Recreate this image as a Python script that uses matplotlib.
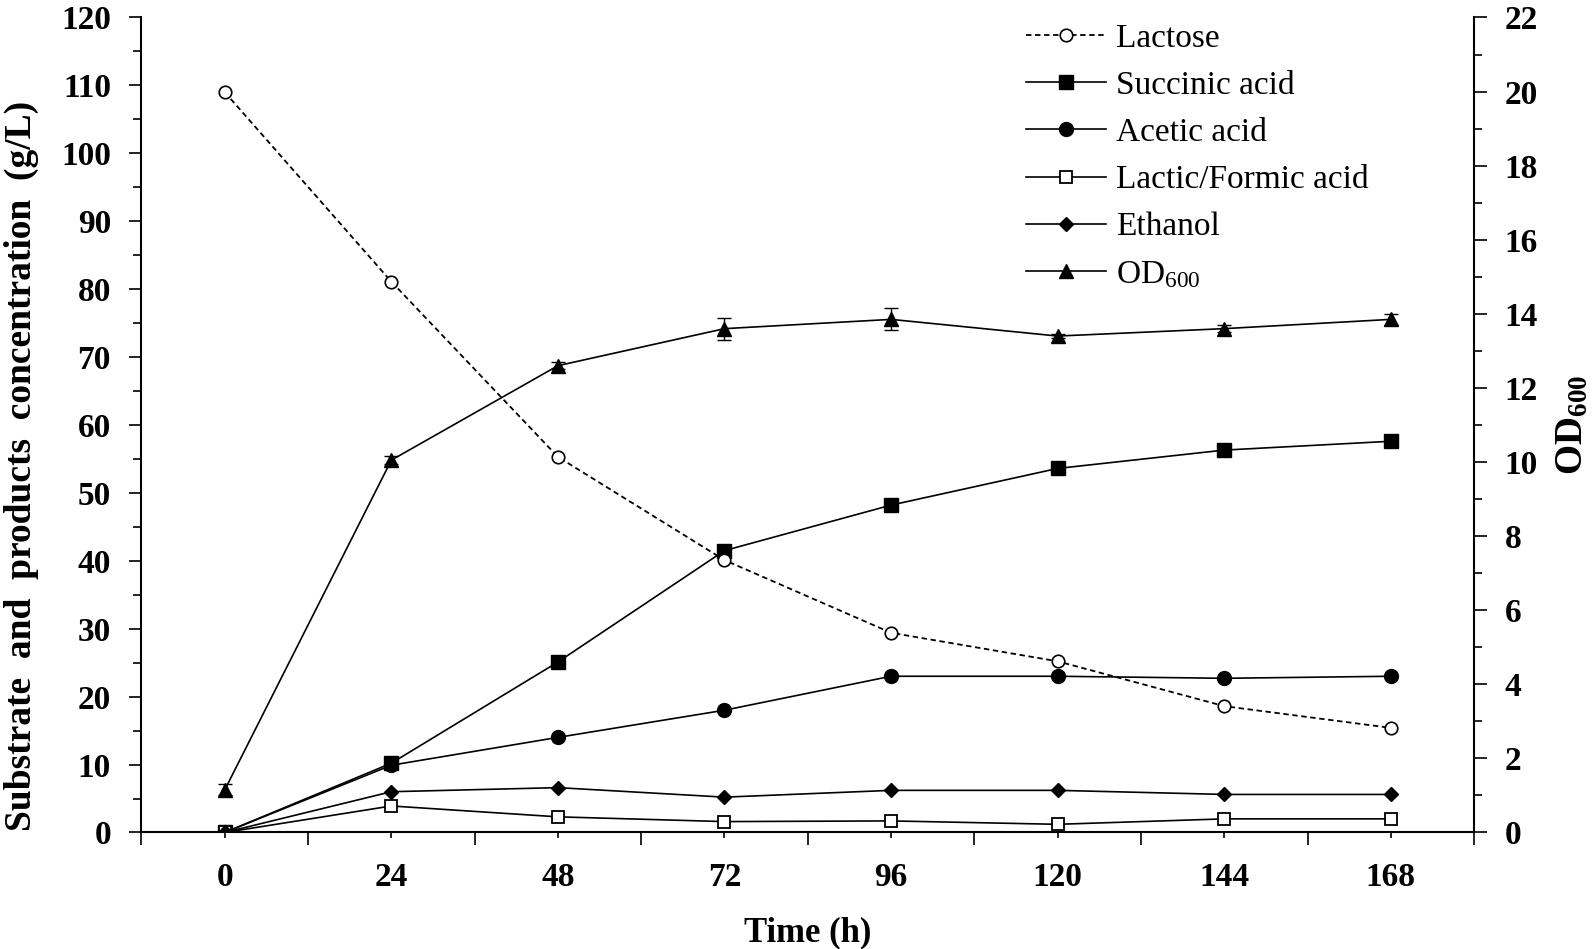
import matplotlib
matplotlib.use('Agg')
import matplotlib.pyplot as plt
from matplotlib.lines import Line2D
import numpy as np

plt.rcParams['font.family'] = 'Liberation Serif'
plt.rcParams['mathtext.fontset'] = 'custom'
plt.rcParams['mathtext.rm'] = 'Liberation Serif'
plt.rcParams['mathtext.bf'] = 'Liberation Serif:bold'
plt.rcParams['mathtext.it'] = 'Liberation Serif:italic'

# data
time = [0, 24, 48, 72, 96, 120, 144, 168]
lactose = [109.0, 81.1, 55.3, 40.1, 29.4, 25.2, 18.6, 15.4]
lactose_err = [0.8, 0.8, 0.8, 0.8, 0.8, 0.5, 0.5, 0.5]
succinic = [0, 10.2, 25.1, 41.5, 48.2, 53.6, 56.3, 57.6]
acetic = [0, 9.9, 14.0, 18.0, 23.0, 23.0, 22.7, 23.0]
lactic_formic = [0, 3.9, 2.3, 1.6, 1.7, 1.2, 2.0, 2.0]
ethanol = [0, 6.0, 6.6, 5.2, 6.2, 6.2, 5.6, 5.6]
od600 = [1.15, 10.05, 12.6, 13.6, 13.85, 13.4, 13.6, 13.85]
od600_err = [0.15, 0.1, 0.1, 0.3, 0.3, 0.05, 0.1, 0.15]

fig = plt.figure(figsize=(15.95, 9.49), dpi=100)
ax = fig.add_axes([0.0887, 0.1228, 0.8355, 0.8588])
ax2 = ax.twinx()

lw = 1.2
dash = (0, (3, 2))
ax.errorbar(time, lactose, yerr=lactose_err, color='k', lw=1.3, ls=dash,
            marker='o', ms=9, mfc='white', mec='k', mew=1.2,
            elinewidth=0.8, capsize=0)
ax.plot(time, succinic, 'k-', lw=lw, marker='s', ms=10.5)
ax.plot(time, acetic, 'k-', lw=lw, marker='o', ms=10)
ax.plot(time, lactic_formic, 'k-', lw=lw, marker='s', ms=9, mfc='white', mew=1.3)
ax.plot(time, ethanol, 'k-', lw=lw, marker='D', ms=7.5)
ax2.errorbar(time, od600, yerr=od600_err, color='k', lw=lw, marker='^', ms=10,
             elinewidth=1, capsize=5, capthick=1)

ax.set_xlim(-12, 180)
ax.set_ylim(0, 120)
ax2.set_ylim(0, 22)

ax.set_xticks(time)
ax.set_xticks(np.arange(-12, 181, 24), minor=True)
ax.set_yticks(np.arange(0, 121, 10))
ax.set_yticks(np.arange(0, 121, 5), minor=True)
ax2.set_yticks(np.arange(0, 23, 2))
ax2.set_yticks(np.arange(0, 23, 1), minor=True)

for s in ['top', 'right']:
    ax.spines[s].set_visible(False)
for s in ['top', 'left', 'bottom']:
    ax2.spines[s].set_visible(False)
ax.spines['left'].set_linewidth(1.5)
ax.spines['bottom'].set_linewidth(1.5)
ax2.spines['right'].set_linewidth(1.5)

ax.tick_params(axis='x', which='major', length=4, width=1.2, pad=17, labelsize=24)
ax.tick_params(axis='x', which='minor', length=9, width=1.2)
ax.tick_params(axis='y', which='major', length=9, width=1.2, pad=13, labelsize=24)
ax.tick_params(axis='y', which='minor', length=6, width=1.2)
ax2.tick_params(axis='y', which='major', length=9, width=1.2, pad=13, labelsize=24)
ax2.tick_params(axis='y', which='minor', length=6, width=1.2)
for lab in ax.get_xticklabels() + ax.get_yticklabels() + ax2.get_yticklabels():
    lab.set_fontweight('bold')

ax.set_xlabel('Time (h)', fontsize=25, fontweight='bold', labelpad=17)
ax.set_ylabel('Substrate  and  products  concentration  (g/L)', fontsize=27,
              fontweight='bold')
ax.yaxis.set_label_coords(-0.077, 0.45)
ax2.set_ylabel(r'$\mathbf{OD_{600}}$', fontsize=28, labelpad=12)

handles = [
    Line2D([], [], color='k', lw=1.3, ls=dash, marker='o', ms=9, mfc='white', mew=1.2),
    Line2D([], [], color='k', lw=lw, marker='s', ms=10.5),
    Line2D([], [], color='k', lw=lw, marker='o', ms=10),
    Line2D([], [], color='k', lw=lw, marker='s', ms=9, mfc='white', mew=1.3),
    Line2D([], [], color='k', lw=lw, marker='D', ms=7.5),
    Line2D([], [], color='k', lw=lw, marker='^', ms=10),
]
labels = ['Lactose', 'Succinic acid', 'Acetic acid', 'Lactic/Formic acid', 'Ethanol',
          r'OD$_{600}$']
ax2.legend(handles, labels, loc='upper left', bbox_to_anchor=(0.633, 0.993),
           bbox_transform=fig.transFigure, frameon=False, fontsize=24,
           handlelength=2.4, handletextpad=0.3, labelspacing=0.5, borderpad=0)

fig.savefig('out.png', dpi=100)
